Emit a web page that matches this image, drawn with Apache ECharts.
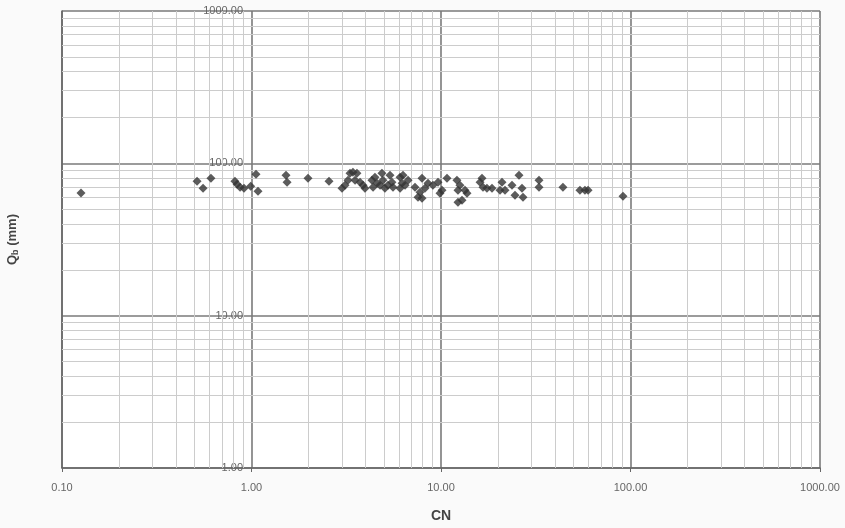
<!DOCTYPE html>
<html>
<head>
<meta charset="utf-8">
<script src="https://cdn.jsdelivr.net/npm/echarts@6/dist/echarts.min.js"></script>
<style>
html,body{margin:0;padding:0;background:#fafafa;}
#c{width:845px;height:528px;}
</style>
</head>
<body>
<div id="c"></div>
<script>
// CN values (x) and Qb (mm) values (y)
const cnValues = [0.126,0.516,0.555,0.611,0.818,0.839,0.870,0.913,0.990,1.056,1.082,1.521,1.540,1.987,2.565,
3.004,3.115,3.23,3.31,3.43,3.60,3.52,3.74,3.88,3.97,4.32,4.48,4.60,4.38,4.88,4.94,4.77,5.06,5.38,5.51,5.25,5.58,
6.08,6.30,6.23,6.46,6.08,6.70,7.29,7.94,8.54,8.23,7.75,7.56,7.94,9.07,9.64,10.12,10.76,9.88,
12.14,12.59,12.29,13.39,13.72,12.29,12.91,16.07,16.46,16.66,17.48,18.58,20.99,20.48,21.77,23.70,25.80,24.58,26.76,27.09,
32.9,32.9,44.0,54.1,57.5,59.7,91.3];
const qbValues = [63.9,76.2,68.6,79.7,76.2,72.8,69.6,68.6,70.7,84.7,65.5,83.4,75.1,79.7,76.2,
68.6,71.8,77.4,86.0,87.3,86.0,77.4,75.1,71.8,68.6,77.4,80.9,74.0,69.6,86.0,77.4,71.8,68.6,83.4,75.1,71.8,69.6,
80.9,83.4,74.0,71.8,68.6,77.4,69.6,79.7,74.0,68.6,64.5,59.8,58.9,71.8,75.1,66.5,79.7,63.6,
77.4,71.8,66.5,66.5,63.6,55.5,57.2,75.1,79.7,69.6,68.6,68.6,75.1,66.5,66.5,71.8,83.4,61.7,68.6,59.8,
77.4,69.6,69.6,66.5,66.5,66.5,60.7];
const xTickLabels = ['0.10','1.00','10.00','100.00','1000.00'];
const yTickLabels = ['1.00','10.00','100.00','1000.00'];

const points = cnValues.map((v,i)=>[v,qbValues[i]]);

// minor gridlines at 2..9 x each decade
const minorX = [], minorY = [];
[0.1,1,10,100].forEach(d=>{for(let k=2;k<=9;k++){minorX.push({xAxis:+(d*k).toPrecision(3)});}});
[1,10,100].forEach(d=>{for(let k=2;k<=9;k++){minorY.push({yAxis:+(d*k).toPrecision(3)});}});

const font = '"Liberation Sans", Arial, sans-serif';
const chart = echarts.init(document.getElementById('c'));
chart.setOption({
  backgroundColor:'#fafafa',
  animation:false,
  textStyle:{fontFamily:font},
  grid:{left:62,right:25,top:11,bottom:60,show:true,backgroundColor:'#ffffff',borderWidth:0,
        containLabel:false,outerBoundsMode:'none'},
  xAxis:{
    type:'log',logBase:10,min:0.1,max:1000,
    name:'CN',nameLocation:'middle',nameGap:41,
    nameTextStyle:{fontFamily:font,fontSize:14,fontWeight:'bold',color:'#444'},
    axisLine:{show:true,lineStyle:{color:'#666',width:1.5}},
    axisTick:{show:true,length:4,lineStyle:{color:'#666'}},
    axisLabel:{fontFamily:font,fontSize:11,color:'#666',margin:14,
      formatter:(v)=>{const i=Math.round(Math.log10(v))+1;return xTickLabels[i]!==undefined?xTickLabels[i]:v.toFixed(2);}},
    splitLine:{show:true,lineStyle:{color:'#7a7a7a',width:1.6}}
  },
  yAxis:{
    type:'log',logBase:10,min:1,max:1000,
    name:'{q|Q}{s|b}{q| (mm)}',nameLocation:'middle',nameGap:42,
    nameTextStyle:{fontFamily:font,fontSize:13,fontWeight:'bold',color:'#444',
      rich:{q:{fontFamily:font,fontSize:13,fontWeight:'bold',color:'#444'},
            s:{fontFamily:font,fontSize:9,fontWeight:'bold',color:'#444',verticalAlign:'bottom',padding:[6,0,0,0]}}},
    axisLine:{show:true,lineStyle:{color:'#666',width:1.5}},
    axisTick:{show:false},
    axisLabel:{fontFamily:font,fontSize:11,color:'#666',margin:-181,
      formatter:(v)=>{const i=Math.round(Math.log10(v));return yTickLabels[i]!==undefined?yTickLabels[i]:v.toFixed(2);}},
    splitLine:{show:true,lineStyle:{color:'#7a7a7a',width:1.6}}
  },
  series:[
    {
      type:'scatter',data:[],z:1,silent:true,
      markLine:{silent:true,z:1,symbol:'none',label:{show:false},animation:false,
        lineStyle:{color:'#cccccc',width:1,type:'solid'},
        data:minorX.concat(minorY)}
    },
    {
      type:'scatter',z:3,data:points,symbol:'diamond',symbolSize:9,
      itemStyle:{color:'#333333'}
    }
  ]
});
</script>
</body>
</html>
